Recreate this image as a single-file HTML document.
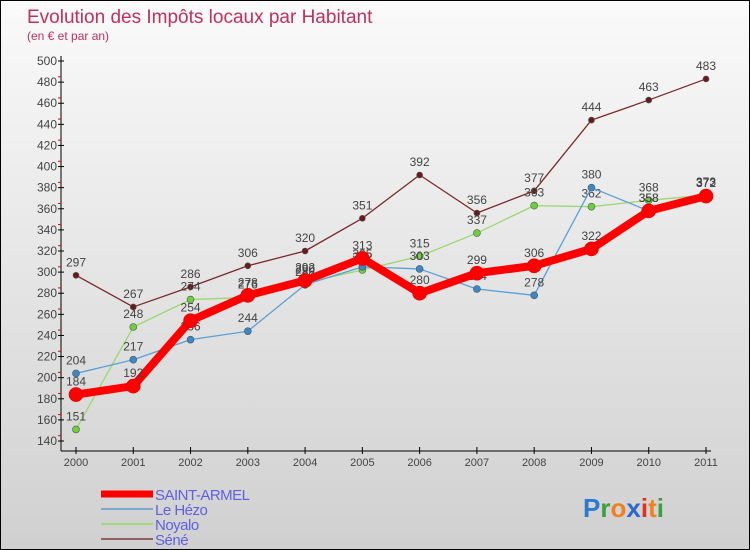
<!DOCTYPE html>
<html><head><meta charset="utf-8"><style>
body{margin:0}
#c{width:750px;height:550px;position:relative;font-family:"Liberation Sans",sans-serif;background:linear-gradient(#fafafa,#d0d0d0);border:1px solid #000;box-sizing:border-box;overflow:hidden}
</style></head><body>
<div id="c">
<svg id="s" width="750" height="550"></svg>
</div>
<script>
const years=["2000","2001","2002","2003","2004","2005","2006","2007","2008","2009","2010","2011"];
const saintArmel=[184,192,254,278,292,313,280,299,306,322,358,372];
const leHezo=[204,217,236,244,288,305,303,284,278,380,358,372];
const noyalo=[151,248,274,276,290,302,315,337,363,362,368,373];
const sene=[297,267,286,306,320,351,392,356,377,444,463,483];
const yTicks=[140,160,180,200,220,240,260,280,300,320,340,360,380,400,420,440,460,480,500];
const NS="http://www.w3.org/2000/svg";
const s=document.getElementById('s');
const X=i=>75+i*(630/11);
const Y=v=>60+(500-v)*380/360;
function el(t,a,p){const e=document.createElementNS(NS,t);for(const k in a)e.setAttribute(k,a[k]);(p||s).appendChild(e);return e;}
let t=el('text',{x:26,y:22,'font-size':19,fill:'#c0305a'});t.textContent='Evolution des Impôts locaux par Habitant';

t=el('text',{x:26,y:39,'font-size':12,fill:'#c0305a'});t.textContent='(en € et par an)';

let a=el('line',{x1:60,y1:55,x2:60,y2:450,stroke:'#000'});
a=el('line',{x1:60,y1:450,x2:710,y2:450,stroke:'#000'});
yTicks.forEach(v=>{const y=Y(v);el('line',{x1:57,y1:y,x2:63,y2:y,stroke:'#000'});
 if(v<500)el('line',{x1:57,y1:y-5.3,x2:60,y2:y-5.3,stroke:'#e00'});
 const tx=el('text',{x:56,y:y+4,'font-size':12,fill:'#444','text-anchor':'end'});tx.textContent=v;
 });
years.forEach((yr,i)=>{const x=X(i);el('line',{x1:x,y1:446,x2:x,y2:453,stroke:'#000'});
 const tx=el('text',{x:x,y:465,'font-size':11,fill:'#444','text-anchor':'middle'});tx.textContent=yr;
 });
const series=[
 {n:'sene',d:sene,c:'#7a2a2a',w:1.3,r:3,f:'#6a1a1a'},
 {n:'noyalo',d:noyalo,c:'#9ad870',w:1.3,r:3.5,f:'#6cd03c'},
 {n:'le-hezo',d:leHezo,c:'#5aa0d8',w:1.3,r:3.5,f:'#3a88c8'},
 {n:'saint-armel',d:saintArmel,c:'#f00',w:8,r:7,f:'#f00'}];
series.forEach(se=>{const g=el('g',{});
 const p=el('polyline',{points:se.d.map((v,i)=>X(i)+','+Y(v)).join(' '),fill:'none',stroke:se.c,'stroke-width':se.w,'stroke-linejoin':'round'},g);
 
 se.d.forEach((v,i)=>{const c=el('circle',{cx:X(i),cy:Y(v),r:se.r,fill:se.f,stroke:se.n=='saint-armel'?'#d00':'#555','stroke-width':0.6},g);
  
  const tx=el('text',{x:X(i),y:Y(v)-9,'font-size':12,fill:'#444','text-anchor':'middle'},g);tx.textContent=v;
  });});
const leg=[['SAINT-ARMEL','#f00',7],['Le Hézo','#7aaad0',2],['Noyalo','#a0d880',2],['Séné','#906060',2]];
leg.forEach((l,i)=>{const y=493+i*15;const g=el('g',{});
 el('line',{x1:100,y1:y,x2:152,y2:y,stroke:l[1],'stroke-width':l[2]},g);
 const tx=el('text',{x:154,y:y+6,'font-size':15,fill:'#6060e0','letter-spacing':'-0.5'},g);tx.textContent=l[0];});
const lg=el('text',{x:582,y:516,'font-size':26,'font-weight':'bold'});
[['P','#2a7ad0'],['r','#3aa040'],['o','#f08020'],['x','#2a6ad0'],['i','#e03020'],['t','#f08020'],['i','#3aa040']].forEach(c=>{const ts=el('tspan',{fill:c[1]},lg);ts.textContent=c[0];});
</script>
</body></html>
